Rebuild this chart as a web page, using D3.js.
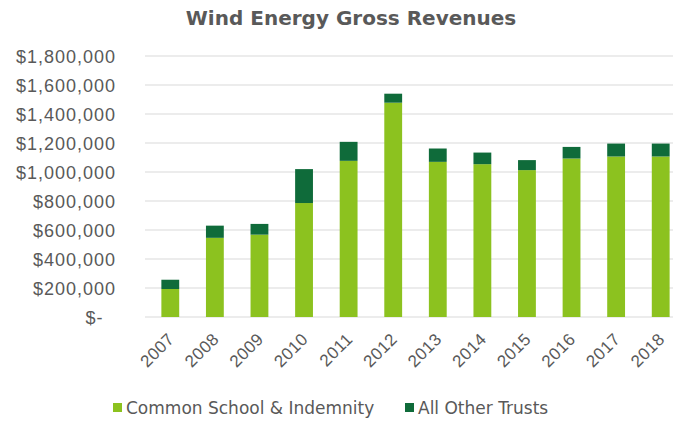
<!DOCTYPE html>
<html>
<head>
<meta charset="utf-8">
<script src="https://cdn.jsdelivr.net/npm/d3@7"></script>
<style>
  body { margin: 0; background: #fff; }
  svg { display: block; font-family: "DejaVu Sans", Verdana, sans-serif; }
</style>
</head>
<body>
<svg id="chart" width="673" height="422"></svg>
<script>
const years = ["2007", "2008", "2009", "2010", "2011", "2012", "2013", "2014", "2015", "2016", "2017", "2018"];
const commonSchool = [193000, 546000, 568000, 786000, 1077000, 1478000, 1070000, 1054000, 1013000, 1093000, 1107000, 1107000];
const otherTrusts = [64000, 84000, 74000, 234000, 131000, 62000, 92000, 80000, 69000, 80000, 89000, 89000];
const seriesNames = ["Common School & Indemnity", "All Other Trusts"];
const yTicks = [0, 200000, 400000, 600000, 800000, 1000000, 1200000, 1400000, 1600000, 1800000];

const colors = ["#8cc21f", "#0f6b3a"];
const svg = d3.select("#chart");
const margin = { top: 56, left: 148, bottom: 105, right: -10 };
const width = 673 - margin.left - margin.right;
const height = 422 - margin.top - margin.bottom;

const rows = years.map((y, i) => ({ year: y, common: commonSchool[i], other: otherTrusts[i] }));
const stacked = d3.stack().keys(["common", "other"])(rows);

const x = d3.scaleBand().domain(years).range([0, width]).paddingInner(0.6).paddingOuter(0.3);
const yScale = d3.scaleLinear().domain([0, 1800000]).range([height, 0]);

const g = svg.append("g").attr("transform", `translate(${margin.left},${margin.top})`);

// gridlines
g.selectAll(".grid")
  .data(yTicks)
  .enter()
  .append("line")
  .attr("x1", -3)
  .attr("x2", width)
  .attr("y1", (d) => yScale(d))
  .attr("y2", (d) => yScale(d))
  .attr("stroke", "#d9d9d9")
  .attr("stroke-width", 1);

const fmt = (d) => (d === 0 ? "$-" : "$" + d3.format(",")(d));
const yAxis = g.append("g")
  .attr("transform", "translate(-29,0)")
  .call(d3.axisLeft(yScale).tickValues(yTicks).tickFormat(fmt).tickSize(0));
yAxis.select(".domain").remove();
yAxis.selectAll("text")
  .attr("fill", "#595959")
  .style("font-size", "18px")
  .style("letter-spacing", "1px")
  .attr("dy", "0.35em");
// Excel-style "$-" sits a bit inward
yAxis.selectAll("text").filter((d) => d === 0).attr("dx", "-0.7em");

g.selectAll(".series")
  .data(stacked)
  .enter()
  .append("g")
  .attr("fill", (d, i) => colors[i])
  .selectAll("rect")
  .data((d) => d)
  .enter()
  .append("rect")
  .attr("x", (d) => x(d.data.year))
  .attr("width", x.bandwidth())
  .attr("y", (d) => yScale(d[1]))
  .attr("height", (d) => yScale(d[0]) - yScale(d[1]));

const xAxis = g.append("g")
  .attr("transform", `translate(0,${height})`)
  .call(d3.axisBottom(x).tickSize(0));
xAxis.select(".domain").remove();
xAxis.selectAll("text")
  .attr("fill", "#595959")
  .style("font-size", "17px")
  .style("letter-spacing", "0.5px")
  .attr("text-anchor", "end")
  .attr("dy", "0")
  .attr("transform", "translate(3,21) rotate(-45)");

// title
svg.append("text")
  .attr("x", 351)
  .attr("y", 25)
  .attr("text-anchor", "middle")
  .attr("fill", "#595959")
  .style("font-size", "20px")
  .style("font-weight", "bold")
  .text("Wind Energy Gross Revenues");

// legend
const legend = svg.append("g").attr("transform", "translate(113,408)");
const legendX = [0, 292];
seriesNames.forEach((name, i) => {
  const item = legend.append("g").attr("transform", `translate(${legendX[i]},0)`);
  item.append("rect").attr("x", 0).attr("y", -5).attr("width", 9).attr("height", 9).attr("fill", colors[i]);
  item.append("text")
    .attr("x", 13)
    .attr("y", 0)
    .attr("dy", "0.35em")
    .attr("fill", "#595959")
    .style("font-size", "17px")
    .text(name);
});
</script>
</body>
</html>
